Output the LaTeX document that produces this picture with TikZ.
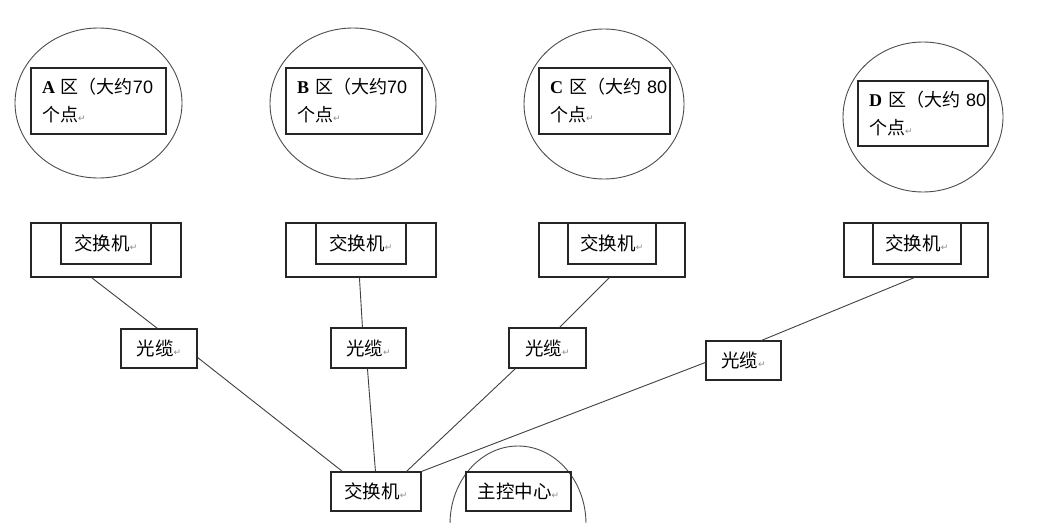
\documentclass[tikz,border=0pt]{standalone}
\usepackage{fontspec}
\setmainfont{Noto Sans CJK SC}
\newfontfamily\latinserif{Liberation Serif}
\newfontfamily\latinsans{Liberation Sans}
\newfontfamily\symfont{DejaVu Sans}
\usetikzlibrary{shapes.geometric,calc}
\newcommand{\retmark}{{\symfont\fontsize{9}{9}\selectfont\textcolor{black!45}{↵}}}
\newcommand{\zl}[1]{{\latinserif\bfseries #1}}
\newcommand{\zn}[1]{{\latinsans #1}}
\tikzset{
  zone/.style={ellipse, draw=black!70, line width=0.9pt, inner sep=0pt},
  zonebox/.style={rectangle, draw=black!85, line width=1.1pt, inner ysep=0pt, inner xsep=11pt,
    align=left, font=\fontsize{18}{28}\selectfont},
  outerbox/.style={rectangle, draw=black!85, line width=1.1pt, inner sep=0pt},
  labelbox/.style={rectangle, draw=black!85, line width=1.1pt, inner sep=0pt,
    font=\fontsize{18.5}{20}\selectfont},
  conn/.style={draw=black!75, line width=0.9pt}
}
\begin{document}
\begin{tikzpicture}[x=1pt,y=-1pt]
\fill[white] (0,0) rectangle (1041,522);
\useasboundingbox (0,0) rectangle (1041,522);

% zone circles
\node[zone, minimum width=167pt, minimum height=150pt] (zA) at (98.5,103) {};
\node[zone, minimum width=166pt, minimum height=151pt] (zB) at (353,103.5) {};
\node[zone, minimum width=160pt, minimum height=150pt] (zC) at (604,104) {};
\node[zone, minimum width=160pt, minimum height=150pt] (zD) at (923,117) {};

% zone boxes
\node[zonebox, text width=113pt, minimum height=66pt] (bA) at (98.5,101)
  {\zl{A}~区（大约\zn{70}\\个点\retmark};
\node[zonebox, text width=114pt, minimum height=66pt] (bB) at (354,101)
  {\zl{B}~区（大约\zn{70}\\个点\retmark};
\node[zonebox, text width=109pt, minimum height=66pt] (bC) at (604.5,101)
  {\zl{C}~区（大约~\zn{80}\\个点\retmark};
\node[zonebox, text width=108pt, minimum height=65pt] (bD) at (923,113.5)
  {\zl{D}~区（大约~\zn{80}\\个点\retmark};

% area switches
\node[outerbox, minimum width=150pt, minimum height=54pt] (sA) at (106,250) {};
\node[labelbox, minimum width=90pt, minimum height=41pt] (iA) at (106,243.5) {交换机\retmark};
\node[outerbox, minimum width=150pt, minimum height=54pt] (sB) at (361,250) {};
\node[labelbox, minimum width=90pt, minimum height=41pt] (iB) at (361,243.5) {交换机\retmark};
\node[outerbox, minimum width=146pt, minimum height=54pt] (sC) at (612,250) {};
\node[labelbox, minimum width=88pt, minimum height=41pt] (iC) at (612,243.5) {交换机\retmark};
\node[outerbox, minimum width=144pt, minimum height=54pt] (sD) at (916,250) {};
\node[labelbox, minimum width=88pt, minimum height=41pt] (iD) at (917,243.5) {交换机\retmark};

% fibre cables
\node[labelbox, minimum width=76pt, minimum height=39pt] (fA) at (159,348.5) {光缆\retmark};
\node[labelbox, minimum width=75pt, minimum height=40pt] (fB) at (368.5,348) {光缆\retmark};
\node[labelbox, minimum width=77pt, minimum height=40pt] (fC) at (547.5,348) {光缆\retmark};
\node[labelbox, minimum width=75pt, minimum height=39pt] (fD) at (743.5,360.5) {光缆\retmark};

% central switch and control centre
\node[labelbox, minimum width=90pt, minimum height=39pt] (core) at (376,491.5) {交换机\retmark};
\node[zone, minimum width=136pt, minimum height=156pt] (mc) at (518,524) {};
\node[labelbox, minimum width=105pt, minimum height=39pt] (mcb) at (518.5,491.5) {主控中心\retmark};

% connectors
\draw[conn] ([xshift=61pt]sA.south west) -- ([xshift=37pt]fA.north west);
\draw[conn] ([yshift=-29pt]fA.north east) -- ([xshift=12pt]core.north west);
\draw[conn] ([xshift=74pt]sB.south west) -- ([xshift=32pt]fB.north west);
\draw[conn] ([xshift=37pt]fB.south west) -- ([xshift=45pt]core.north west);
\draw[conn] ([xshift=71pt]sC.south west) -- ([xshift=51pt]fC.north west);
\draw[conn] ([xshift=7pt]fC.south west) -- ([xshift=76pt]core.north west);
\draw[conn] ([xshift=71pt]sD.south west) -- ([xshift=56pt]fD.north west);
\draw[conn] ([yshift=-22pt]fD.north west) -- (core.north east);
\end{tikzpicture}
\end{document}
